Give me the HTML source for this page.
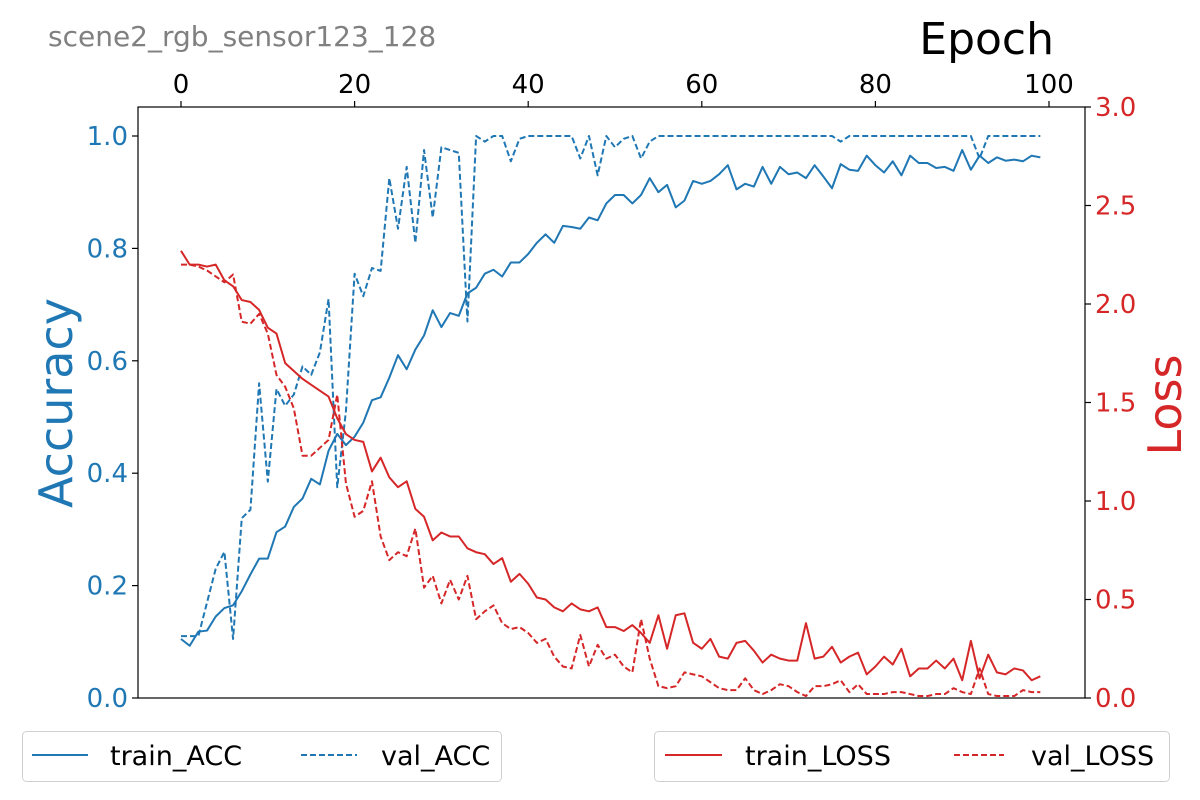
<!DOCTYPE html>
<html><head><meta charset="utf-8">
<style>
html,body{margin:0;padding:0;background:#fff;}
svg{display:block;font-family:"DejaVu Sans","Liberation Sans",sans-serif;}
</style></head>
<body>
<svg id="chart" width="1200" height="800" viewBox="0 0 1200 800">
<text x="48" y="46" font-size="28" fill="#808080">scene2_rgb_sensor123_128</text>
<text x="1054" y="54" font-size="44" fill="#000" text-anchor="end">Epoch</text>
<text transform="translate(72,403) rotate(-90)" font-size="46" fill="#1f77b4" text-anchor="middle">Accuracy</text>
<text transform="translate(1181,405) rotate(-90)" font-size="46" fill="#d62728" text-anchor="middle">Loss</text>
<g id="plot"></g>
<g>
<rect x="22.5" y="731.5" width="479" height="50" rx="4" fill="#fff" stroke="#d0d0d0"/>
<line x1="32" y1="755" x2="88" y2="755" stroke="#1f77b4" stroke-width="2"/>
<text x="110" y="765" font-size="27">train_ACC</text>
<line x1="301" y1="755" x2="357" y2="755" stroke="#1f77b4" stroke-width="2" stroke-dasharray="6,3"/>
<text x="381" y="765" font-size="27">val_ACC</text>
</g>
<g>
<rect x="654.5" y="731.5" width="515" height="50" rx="4" fill="#fff" stroke="#d0d0d0"/>
<line x1="665" y1="755" x2="722" y2="755" stroke="#d62728" stroke-width="2"/>
<text x="745" y="765" font-size="27">train_LOSS</text>
<line x1="954" y1="755" x2="1004" y2="755" stroke="#d62728" stroke-width="2" stroke-dasharray="6,3"/>
<text x="1031" y="765" font-size="27">val_LOSS</text>
</g>
</svg>
<script>
const trainAcc=[0.105,0.093,0.118,0.12,0.145,0.16,0.165,0.19,0.22,0.248,0.248,0.295,0.305,0.34,0.355,0.39,0.38,0.44,0.47,0.45,0.465,0.49,0.53,0.535,0.57,0.61,0.585,0.62,0.645,0.69,0.66,0.685,0.68,0.72,0.73,0.755,0.762,0.75,0.775,0.775,0.79,0.81,0.825,0.81,0.84,0.838,0.835,0.855,0.85,0.88,0.895,0.895,0.88,0.895,0.925,0.9,0.913,0.873,0.885,0.92,0.915,0.92,0.932,0.948,0.905,0.915,0.91,0.945,0.915,0.945,0.932,0.935,0.925,0.948,0.928,0.907,0.95,0.94,0.938,0.965,0.948,0.935,0.955,0.93,0.965,0.952,0.952,0.943,0.945,0.938,0.975,0.94,0.965,0.952,0.962,0.956,0.958,0.955,0.965,0.962];
const valAcc=[0.11,0.11,0.11,0.17,0.23,0.26,0.105,0.32,0.335,0.56,0.385,0.55,0.52,0.54,0.59,0.575,0.615,0.71,0.375,0.51,0.755,0.715,0.765,0.76,0.925,0.835,0.945,0.81,0.975,0.855,0.98,0.975,0.97,0.67,1.0,0.99,1.0,1.0,0.955,0.995,1.0,1.0,1.0,1.0,1.0,1.0,0.96,1.0,0.93,1.0,0.98,0.995,1.0,0.96,0.99,1.0,1.0,1.0,1.0,1.0,1.0,1.0,1.0,1.0,1.0,1.0,1.0,1.0,1.0,1.0,1.0,1.0,1.0,1.0,1.0,1.0,0.99,1.0,1.0,1.0,1.0,1.0,1.0,1.0,1.0,1.0,1.0,1.0,1.0,1.0,1.0,1.0,0.96,1.0,1.0,1.0,1.0,1.0,1.0,1.0];
const trainLoss=[2.27,2.2,2.2,2.19,2.2,2.12,2.09,2.02,2.01,1.97,1.88,1.85,1.7,1.66,1.62,1.59,1.56,1.53,1.42,1.34,1.31,1.3,1.15,1.22,1.12,1.07,1.1,0.96,0.92,0.8,0.84,0.82,0.82,0.76,0.74,0.73,0.68,0.71,0.59,0.63,0.58,0.51,0.5,0.46,0.44,0.48,0.45,0.44,0.46,0.36,0.36,0.34,0.37,0.33,0.28,0.42,0.25,0.42,0.43,0.28,0.25,0.3,0.21,0.2,0.28,0.29,0.24,0.18,0.22,0.2,0.19,0.19,0.38,0.2,0.21,0.26,0.18,0.21,0.23,0.12,0.16,0.21,0.17,0.25,0.11,0.15,0.15,0.19,0.15,0.2,0.09,0.29,0.1,0.22,0.13,0.12,0.15,0.14,0.09,0.11];
const valLoss=[2.2,2.2,2.19,2.17,2.14,2.11,2.15,1.91,1.9,1.95,1.85,1.64,1.58,1.47,1.23,1.23,1.27,1.31,1.54,1.09,0.92,0.95,1.1,0.82,0.7,0.74,0.72,0.86,0.56,0.62,0.48,0.6,0.5,0.62,0.4,0.44,0.47,0.38,0.35,0.36,0.33,0.28,0.3,0.21,0.16,0.15,0.32,0.16,0.27,0.2,0.22,0.16,0.13,0.4,0.2,0.06,0.05,0.06,0.13,0.12,0.11,0.08,0.05,0.04,0.04,0.1,0.04,0.02,0.04,0.07,0.06,0.03,0.01,0.06,0.06,0.07,0.09,0.03,0.07,0.02,0.02,0.02,0.03,0.03,0.02,0.01,0.01,0.02,0.02,0.05,0.03,0.02,0.15,0.02,0.01,0.01,0.01,0.04,0.03,0.03];
const xTicks=[0,20,40,60,80,100];
const accTicks=[0.0,0.2,0.4,0.6,0.8,1.0];
const lossTicks=[0.0,0.5,1.0,1.5,2.0,2.5,3.0];

const NS="http://www.w3.org/2000/svg";
const L=138,R=1085,T=107,B=698;
const xS=v=>181+(v/100)*(1049-181);
const accS=v=>698-v*562;
const lossS=v=>698-(v/3)*(698-107);
const g=document.getElementById('plot');
function mk(tag,attrs){const e=document.createElementNS(NS,tag);for(const k in attrs)e.setAttribute(k,attrs[k]);g.appendChild(e);return e;}

function series(arr,ys,color,dash,name){
  const p=mk('polyline',{points:arr.map((v,i)=>xS(i)+','+ys(v)).join(' '),fill:'none',stroke:color,'stroke-width':2,'stroke-dasharray':dash||'none','stroke-linejoin':'round'});
  
  
}
series(trainAcc,accS,'#1f77b4',null,'train-acc-line');
series(valAcc,accS,'#1f77b4','6,3','val-acc-line');
series(trainLoss,lossS,'#d62728',null,'train-loss-line');
series(valLoss,lossS,'#d62728','6,3','val-loss-line');

const frame=mk('rect',{x:L,y:T,width:R-L,height:B-T,fill:'none',stroke:'#000','stroke-width':1.2});



xTicks.forEach(t=>{
  const x=xS(t);
  mk('line',{x1:x,y1:T,x2:x,y2:T-6,stroke:'#000','stroke-width':1.2});
  const tx=mk('text',{x:x,y:T-14,'font-size':26,'text-anchor':'middle',fill:'#000'});
  tx.textContent=t;
  
  
});
accTicks.forEach(t=>{
  const y=accS(t);
  mk('line',{x1:L,y1:y,x2:L-6,y2:y,stroke:'#000','stroke-width':1.2});
  const tx=mk('text',{x:L-10,y:y+9,'font-size':26,'text-anchor':'end',fill:'#1f77b4'});
  tx.textContent=t.toFixed(1);
  
  
});
lossTicks.forEach(t=>{
  const y=lossS(t);
  mk('line',{x1:R,y1:y,x2:R+6,y2:y,stroke:'#000','stroke-width':1.2});
  const tx=mk('text',{x:R+10,y:y+9,'font-size':26,'text-anchor':'start',fill:'#d62728'});
  tx.textContent=t.toFixed(1);
  
  
});
</script>
</body></html>
